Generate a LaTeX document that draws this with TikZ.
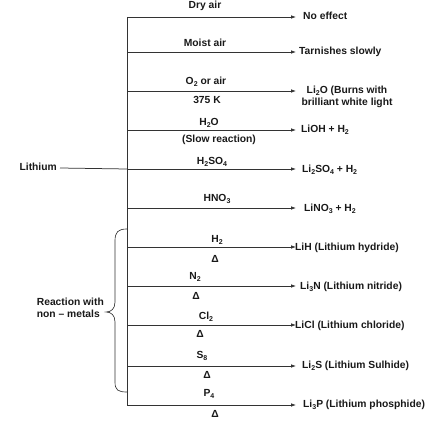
\documentclass[tikz,border=0pt]{standalone}
\usepackage{fontspec}
\setmainfont{Liberation Sans}
\usetikzlibrary{arrows.meta}
\newcommand{\chsb}[1]{\raisebox{-0.35ex}{\fontsize{7}{7}\selectfont #1}}
\tikzset{
  txt/.style={font=\bfseries\fontsize{10.3}{11.8}\selectfont, inner sep=0pt, text=black!90},
  cond/.style={txt, anchor=center},
  prod/.style={txt, anchor=west},
  ln/.style={line width=0.75pt, draw=black!80},
  arr/.style={ln, -{Latex[length=5pt,width=3.6pt]}},
}
\begin{document}
\begin{tikzpicture}[x=1pt,y={(0pt,-1pt)}]
\useasboundingbox (0,0) rectangle (428,425);
% trunk points
\coordinate (top) at (127,17);
\coordinate (bot) at (127,405);
\foreach \n/\y in {1/17,2/52,3/91,4/130,5/169,6/208,7/247,8/286,9/325,10/366,11/405}{
  \coordinate (t\n) at (127,\y);
  \coordinate (e\n) at (296,\y);
}
\draw[ln] (top) -- (bot);
% Lithium
\node[txt, anchor=east] (li) at (57,167) {Lithium};
\draw[ln] (li.east) ++(3,1) coordinate (lis) -- (t5);
% arrows
\foreach \n in {1,...,11}{ \draw[arr] (t\n) -- (e\n); }
% conditions
\node[cond] (c1) at (205,6) {Dry air};
\node[cond] (c2) at (205,43) {Moist air};
\node[cond] (c3) at (206,82) {O\chsb{2} or air};
\node[cond] (c3b) at (207,100) {375 K};
\node[cond] (c4) at (209,123) {H\chsb{2}O};
\node[cond] (c4b) at (219,140) {(Slow reaction)};
\node[cond] (c5) at (212,162) {H\chsb{2}SO\chsb{4}};
\node[cond] (c6) at (217,199) {HNO\chsb{3}};
\node[cond] (c7) at (217,240) {H\chsb{2}};
\node[cond] (d7) at (215,259) {Δ};
\node[cond] (c8) at (195,277) {N\chsb{2}};
\node[cond] (d8) at (196,296) {Δ};
\node[cond] (c9) at (206,317) {Cl\chsb{2}};
\node[cond] (d9) at (200,334) {Δ};
\node[cond] (c10) at (202,356) {S\chsb{8}};
\node[cond] (d10) at (207,375) {Δ};
\node[cond] (c11) at (209,394) {P\chsb{4}};
\node[cond] (d11) at (215,414) {Δ};
% products
\node[prod] (p1) at (303,16) {No effect};
\node[prod] (p2) at (299,52) {Tarnishes slowly};
\node[txt, align=center] (p3) at (347,97) {Li\chsb{2}O (Burns with\\brilliant white light};
\node[prod] (p4) at (301,130) {LiOH + H\chsb{2}};
\node[prod] (p5) at (302,170) {Li\chsb{2}SO\chsb{4} + H\chsb{2}};
\node[prod] (p6) at (304,209) {LiNO\chsb{3} + H\chsb{2}};
\node[prod] (p7) at (295,248) {LiH (Lithium hydride)};
\node[prod] (p8) at (300,287) {Li\chsb{3}N (Lithium nitride)};
\node[prod] (p9) at (295,326) {LiCl (Lithium chloride)};
\node[prod] (p10) at (302,366) {Li\chsb{2}S (Lithium Sulhide)};
\node[prod] (p11) at (303,405) {Li\chsb{3}P (Lithium phosphide)};
% brace
\coordinate (bt) at (127,229);
\coordinate (bb) at (127,392);
\coordinate (tip) at (106,312);
\draw[ln, line width=0.65pt] (bt) .. controls (118,229) and (115,232) .. (115,241) -- (115,302)
  .. controls (115,309) and (111,312) .. (tip)
  .. controls (111,312) and (115,315) .. (115,322) -- (115,382)
  .. controls (115,390) and (118,392) .. (bb);
\node[txt, align=left, anchor=east] (rw) at (104,308) {Reaction with\\non -- metals};
\end{tikzpicture}
\end{document}
